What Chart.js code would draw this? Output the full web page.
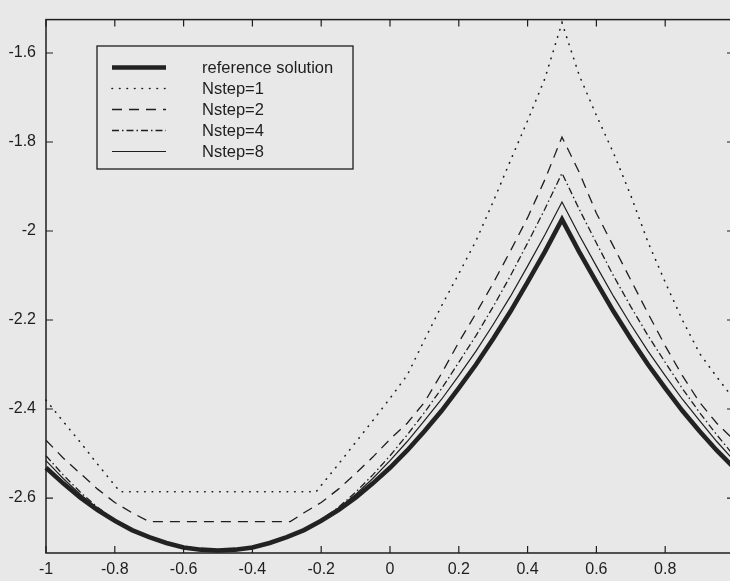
<!DOCTYPE html>
<html><head><meta charset="utf-8">
<script src="https://cdn.jsdelivr.net/npm/chart.js@4.4.0/dist/chart.umd.min.js"></script>
<style>
html,body{margin:0;padding:0;background:#e8e8e8;overflow:hidden;width:730px;height:581px;}
canvas{display:block;}
</style></head><body>
<canvas id="c" width="730" height="581"></canvas>
<script>
const xTicks = [-1,-0.8,-0.6,-0.4,-0.2,0,0.2,0.4,0.6,0.8,1];
const yTicks = [-2.6,-2.4,-2.2,-2,-1.8,-1.6];
const seriesLabels = ['reference solution','Nstep=1','Nstep=2','Nstep=4','Nstep=8'];

const gridX = [-1,-0.95,-0.9,-0.85,-0.8,-0.75,-0.7,-0.65,-0.6,-0.55,-0.5,-0.45,-0.4,-0.35,-0.3,-0.25,-0.2,-0.15,-0.1,-0.05,
  0,0.05,0.1,0.15,0.2,0.25,0.3,0.35,0.4,0.45,0.5,0.55,0.6,0.65,0.7,0.75,0.8,0.85,0.9,0.95,1];

const refY = [-2.532,-2.567,-2.599,-2.627,-2.651,-2.672,-2.688,-2.701,-2.711,-2.716,-2.718,-2.716,-2.711,-2.701,-2.688,-2.672,-2.651,-2.627,-2.599,-2.567,
  -2.532,-2.493,-2.450,-2.404,-2.353,-2.300,-2.242,-2.181,-2.115,-2.047,-1.974,-2.047,-2.115,-2.181,-2.242,-2.300,-2.353,-2.404,-2.450,-2.493,-2.532];

const n8Y = [-2.516,-2.556,-2.592,-2.623,-2.649,-2.670,-2.687,-2.700,-2.710,-2.715,-2.717,-2.715,-2.710,-2.700,-2.687,-2.670,-2.649,-2.623,-2.592,-2.556,
  -2.516,-2.473,-2.426,-2.378,-2.325,-2.270,-2.210,-2.147,-2.079,-2.009,-1.935,-2.009,-2.079,-2.147,-2.210,-2.270,-2.325,-2.378,-2.426,-2.473,-2.516];

const n4Y = [-2.505,-2.548,-2.587,-2.621,-2.649,-2.670,-2.686,-2.699,-2.709,-2.714,-2.716,-2.714,-2.709,-2.699,-2.686,-2.670,-2.649,-2.621,-2.587,-2.548,
  -2.505,-2.458,-2.408,-2.354,-2.295,-2.235,-2.170,-2.101,-2.027,-1.951,-1.870,-1.951,-2.027,-2.101,-2.170,-2.235,-2.295,-2.354,-2.408,-2.458,-2.505];

const n2X = [-1,-0.95,-0.9,-0.85,-0.8,-0.75,-0.7,-0.29,-0.25,-0.2,-0.15,-0.1,-0.05,0,0.05,0.1,0.15,0.2,0.25,0.3,0.35,0.4,0.45,0.5,
  0.55,0.6,0.65,0.7,0.75,0.8,0.85,0.9,0.95,1];
const n2Y = [-2.470,-2.510,-2.545,-2.580,-2.610,-2.633,-2.653,-2.653,-2.633,-2.610,-2.580,-2.545,-2.508,-2.468,-2.432,-2.385,-2.320,-2.250,-2.185,-2.117,-2.045,-1.970,-1.885,-1.789,
  -1.868,-1.960,-2.035,-2.110,-2.185,-2.258,-2.325,-2.385,-2.432,-2.470];

const n1X = [-1,-0.95,-0.9,-0.85,-0.785,-0.215,-0.15,-0.1,-0.05,0,0.05,0.1,0.15,0.2,0.25,0.3,0.35,0.4,0.45,0.5,
  0.55,0.6,0.65,0.7,0.75,0.8,0.85,0.9,0.95,1];
const n1Y = [-2.380,-2.428,-2.475,-2.524,-2.586,-2.586,-2.524,-2.475,-2.426,-2.376,-2.324,-2.245,-2.168,-2.096,-2.022,-1.934,-1.842,-1.752,-1.658,-1.532,
  -1.650,-1.740,-1.825,-1.920,-2.025,-2.115,-2.200,-2.275,-2.328,-2.378];

// the picture is cropped at the right: the visible x range ends just before 1
const X_MIN = -1, X_FRAME_MAX = 1, X_VISIBLE_MAX = 0.9884;
const Y_MIN = -2.7235, Y_MAX = -1.525;

const pts = (xs, ys) => xs.map((x, i) => ({x, y: ys[i]}));
const INK = '#1e1e1e';
const FONT = '"Liberation Sans", Arial, Helvetica, sans-serif';

const datasets = [
  {label: seriesLabels[0], data: pts(gridX, refY), borderColor: '#222', borderWidth: 4.6, borderJoinStyle: 'miter'},
  {label: seriesLabels[1], data: pts(n1X, n1Y), borderColor: INK, borderWidth: 1.6, borderDash: [0.5, 7], borderCapStyle: 'round'},
  {label: seriesLabels[2], data: pts(n2X, n2Y), borderColor: INK, borderWidth: 1.3, borderDash: [10, 7]},
  {label: seriesLabels[3], data: pts(gridX, n4Y), borderColor: INK, borderWidth: 1.3, borderDash: [7, 3, 1.5, 3]},
  {label: seriesLabels[4], data: pts(gridX, n8Y), borderColor: INK, borderWidth: 1.2}
].map(d => Object.assign({pointRadius: 0, fill: false, tension: 0, clip: false}, d));

const framePlugin = {
  id: 'frame',
  beforeDraw(chart) {
    const {ctx, width, height} = chart;
    ctx.save(); ctx.fillStyle = '#e8e8e8'; ctx.fillRect(0, 0, width, height); ctx.restore();
  },
  afterDraw(chart) {
    const {ctx, chartArea: a, scales: {x, y}} = chart;
    const left = x.getPixelForValue(X_MIN), right = x.getPixelForValue(X_FRAME_MAX);
    ctx.save();
    ctx.strokeStyle = INK; ctx.setLineDash([]);
    ctx.lineWidth = 1.5;
    ctx.strokeRect(left, a.top, right - left, a.bottom - a.top);
    ctx.lineWidth = 1.2;
    ctx.beginPath();
    xTicks.forEach(v => {
      const px = x.getPixelForValue(v);
      ctx.moveTo(px, a.bottom); ctx.lineTo(px, a.bottom - 7);
      ctx.moveTo(px, a.top); ctx.lineTo(px, a.top + 7);
    });
    y.ticks.forEach(t => {
      const py = y.getPixelForValue(t.value);
      ctx.moveTo(left, py); ctx.lineTo(left + 7, py);
      ctx.moveTo(right, py); ctx.lineTo(right - 7, py);
    });
    ctx.stroke();
    // legend box
    const bx = 97, by = 46, bw = 256, bh = 123;
    ctx.lineWidth = 1.3;
    ctx.strokeRect(bx, by, bw, bh);
    ctx.font = '16.5px ' + FONT;
    ctx.fillStyle = INK;
    ctx.textBaseline = 'middle';
    ctx.textAlign = 'left';
    chart.data.datasets.forEach((d, i) => {
      const ly = 67.5 + i * 21;
      ctx.save();
      ctx.strokeStyle = d.borderColor;
      ctx.lineWidth = d.borderWidth;
      ctx.setLineDash(d.borderDash || []);
      ctx.lineCap = d.borderCapStyle || 'butt';
      ctx.beginPath(); ctx.moveTo(112, ly); ctx.lineTo(166, ly); ctx.stroke();
      ctx.restore();
      ctx.fillText(d.label, 202, ly + 1);
    });
    ctx.restore();
  }
};

const fmt = v => String(Math.round(v * 10) / 10);

new Chart(document.getElementById('c'), {
  type: 'line',
  data: {datasets},
  plugins: [framePlugin],
  options: {
    responsive: false,
    animation: false,
    devicePixelRatio: 1,
    layout: {padding: {top: 6.5, right: 0, left: 0, bottom: 0}},
    plugins: {legend: {display: false}, tooltip: {enabled: false}},
    scales: {
      x: {
        type: 'linear', min: X_MIN, max: X_VISIBLE_MAX,
        afterBuildTicks: s => { s.ticks = xTicks.filter(v => v <= X_VISIBLE_MAX).map(v => ({value: v})); },
        afterFit: s => { s.height = 28; },
        grid: {display: false, drawTicks: false},
        border: {display: false},
        ticks: {autoSkip: false, maxRotation: 0, padding: 7, color: INK, font: {size: 16, family: FONT}, callback: fmt}
      },
      y: {
        type: 'linear', min: Y_MIN, max: Y_MAX,
        afterBuildTicks: s => { s.ticks = yTicks.map(v => ({value: v})); },
        afterFit: s => { s.width = 46; },
        grid: {display: false, drawTicks: false},
        border: {display: false},
        ticks: {autoSkip: false, padding: 10, color: INK, font: {size: 16, family: FONT}, callback: fmt}
      }
    }
  }
});
</script>
</body></html>
